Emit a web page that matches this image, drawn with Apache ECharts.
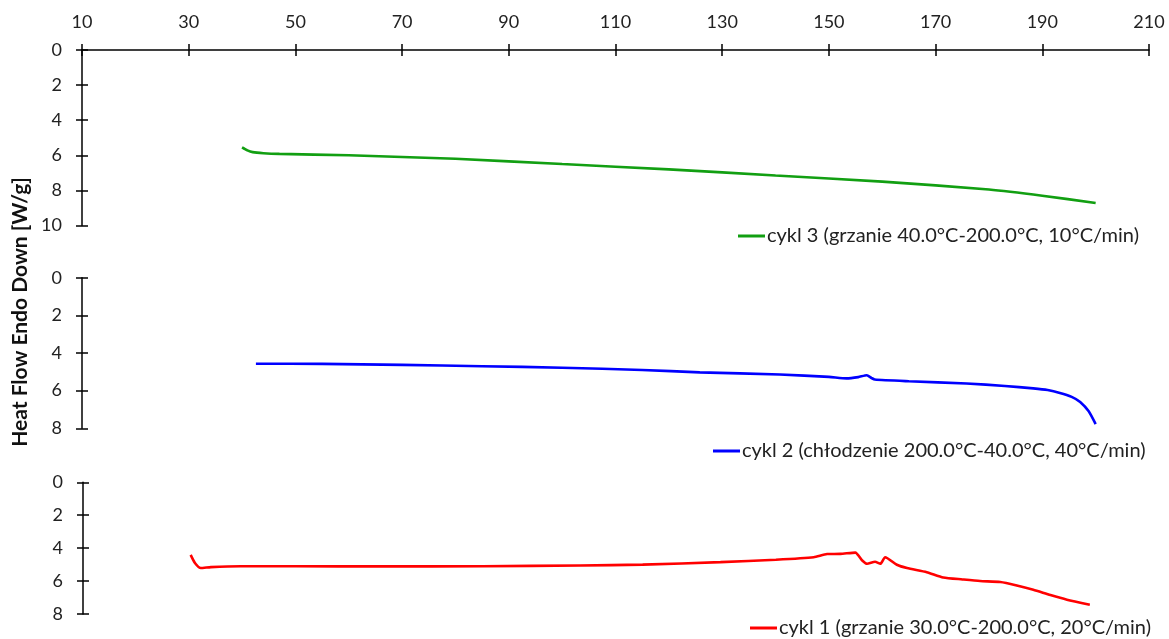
<!DOCTYPE html>
<html><head><meta charset="utf-8">
<script src="https://cdn.jsdelivr.net/npm/echarts@6/dist/echarts.min.js"></script>
<style>html,body{margin:0;padding:0;background:#fff}#c{width:1169px;height:639px}</style>
</head><body><div id="c"></div>
<script>
const xTicks = [10, 30, 50, 70, 90, 110, 130, 150, 170, 190, 210];
const yTitle = 'Heat Flow Endo Down [W/g]';

const cykl3Name = 'cykl 3 (grzanie 40.0°C-200.0°C, 10°C/min)';
const cykl3T  = [40, 41, 42, 44, 47, 60, 80, 100, 120, 140, 160, 180, 190, 200];
const cykl3HF = [5.55, 5.72, 5.82, 5.88, 5.92, 6.0, 6.2, 6.5, 6.8, 7.15, 7.5, 7.95, 8.3, 8.72];

const cykl2Name = 'cykl 2 (chłodzenie 200.0°C-40.0°C, 40°C/min)';
const cykl2T  = [42.6, 55, 70, 85, 100, 115, 125.8, 140.8, 150, 153.3, 155.5, 157.1, 158, 158.6, 165, 175.8, 183, 188.3, 191, 193.3, 195.5, 197.1, 198.7, 200];
const cykl2HF = [4.57, 4.58, 4.63, 4.7, 4.78, 4.9, 5.03, 5.14, 5.27, 5.35, 5.28, 5.18, 5.33, 5.41, 5.5, 5.62, 5.75, 5.88, 5.97, 6.12, 6.33, 6.6, 7.1, 7.78];

const cykl1Name = 'cykl 1 (grzanie 30.0°C-200.0°C, 20°C/min)';
const cykl1T  = [30.2, 31, 32.1, 34, 39.6, 50, 65.9, 85, 103.3, 115, 129.6, 140, 147.1, 149.6, 152.1, 154.9, 156.2, 157.1, 158.6, 159.6, 160.5, 162.7, 164.6, 168.3, 171.4, 175, 178.3, 182.1, 185, 188.3, 191.5, 194.6, 198.9];
const cykl1HF = [4.41, 4.9, 5.21, 5.15, 5.1, 5.1, 5.11, 5.1, 5.05, 5.0, 4.85, 4.7, 4.55, 4.36, 4.35, 4.27, 4.75, 4.95, 4.83, 4.95, 4.55, 5.01, 5.21, 5.46, 5.78, 5.9, 6.0, 6.06, 6.25, 6.53, 6.85, 7.13, 7.44];

const FONT = 'Lato';
const TXT = '#222';
const AX = {color: '#000', width: 1.5};

const pair = (xs, ys) => xs.map((x, i) => [x, ys[i]]);

const grids = [
  {left: 82, top: 50, width: 1067, height: 175.5},
  {left: 82, top: 277.7, width: 1067, height: 150.6},
  {left: 83, top: 482.3, width: 1066, height: 131.7}
];
const yMax = [10, 8, 8];

const xAxes = [];
const yAxes = [];
grids.forEach((g, i) => {
  xAxes.push({
    type: 'value', gridIndex: i, min: 10, max: 210, position: 'top',
    show: i === 0,
    axisLine: {show: true, onZero: false, lineStyle: AX},
    axisTick: {show: true, inside: false, length: 6, lineStyle: AX, customValues: xTicks},
    axisLabel: {show: true, margin: 19, color: TXT, fontFamily: FONT, fontSize: 18, customValues: xTicks},
    splitLine: {show: false}
  });
  xAxes.push({
    type: 'value', gridIndex: i, min: 10, max: 210, position: 'top',
    show: i === 0,
    axisLine: {show: false},
    axisTick: {show: true, inside: true, length: 6, lineStyle: AX, customValues: xTicks},
    axisLabel: {show: false},
    splitLine: {show: false}
  });
  yAxes.push({
    type: 'value', gridIndex: i, min: 0, max: yMax[i], interval: 2, inverse: true, position: 'left',
    axisLine: {show: true, onZero: false, lineStyle: AX},
    axisTick: {show: true, inside: false, length: 6, lineStyle: AX},
    axisLabel: {show: true, margin: 20, color: TXT, fontFamily: FONT, fontSize: 18},
    splitLine: {show: false}
  });
  yAxes.push({
    type: 'value', gridIndex: i, min: 0, max: yMax[i], interval: 2, inverse: true, position: 'left',
    axisLine: {show: false},
    axisTick: {show: true, inside: true, length: 6, lineStyle: AX},
    axisLabel: {show: false},
    splitLine: {show: false}
  });
});

const lineSeries = (name, data, idx, color) => ({
  name, type: 'line', data, xAxisIndex: idx * 2, yAxisIndex: idx * 2,
  showSymbol: false, symbol: 'none', smooth: 0.2,
  lineStyle: {color, width: 2.6}, itemStyle: {color}, animation: false
});

const legendBase = (name, left, top) => ({
  data: [name], left, top, orient: 'horizontal', padding: 0,
  icon: 'rect', itemWidth: 27, itemHeight: 3, itemGap: 0,
  textStyle: {color: TXT, fontFamily: FONT, fontSize: 20, padding: [0, 0, 0, -3]},
  selectedMode: false
});

const option = {
  backgroundColor: '#fff',
  animation: false,
  grid: grids,
  xAxis: xAxes,
  yAxis: yAxes,
  legend: [
    legendBase(cykl3Name, 738, 226),
    legendBase(cykl2Name, 713, 441),
    legendBase(cykl1Name, 750, 618)
  ],
  series: [
    lineSeries(cykl3Name, pair(cykl3T, cykl3HF), 0, '#129f12'),
    lineSeries(cykl2Name, pair(cykl2T, cykl2HF), 1, '#0000ff'),
    lineSeries(cykl1Name, pair(cykl1T, cykl1HF), 2, '#ff0000')
  ],
  graphic: [{
    type: 'text', x: 20, y: 312, rotation: Math.PI / 2,
    style: {text: yTitle, fill: '#111', font: 'bold 21px Lato', align: 'center', verticalAlign: 'middle'}
  }]
};

const chart = echarts.init(document.getElementById('c'), null, {renderer: 'canvas'});
chart.setOption(option);
</script>
</body></html>
